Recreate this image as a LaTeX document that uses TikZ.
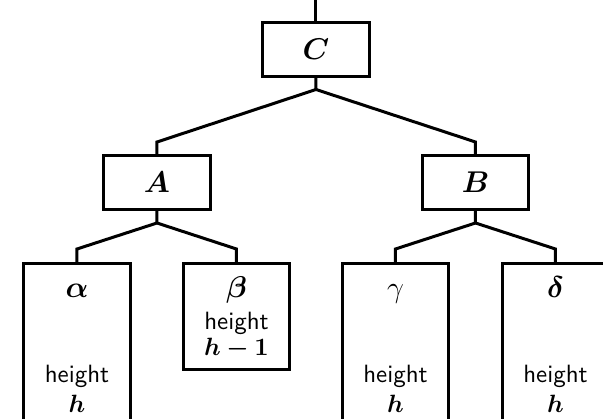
\documentclass[tikz,border=0pt]{standalone}
\usepackage{bm}
\begin{document}
\begin{tikzpicture}[x=0.4pt,y=-0.4pt,
  box/.style={draw,line width=1.2pt,rectangle,inner sep=0pt,minimum width=42.6pt},
  conn/.style={line width=1.2pt,line join=miter},
  lbl/.style={anchor=base,inner sep=0pt,font=\sffamily},
  big/.style={anchor=base,inner sep=0pt,font=\fontsize{11.5}{14}\selectfont}]
\useasboundingbox (0,0) rectangle (603,419);
\clip (0,0) rectangle (603,419);
% internal boxes
\node[box,minimum height=21.6pt,font=\large] (C) at (316,49.5) {$\bm{C}$};
\node[box,minimum height=21.6pt,font=\large] (A) at (157,182.5) {$\bm{A}$};
\node[box,minimum height=21.6pt,font=\large] (B) at (475.5,182.5) {$\bm{B}$};
% leaves
\node[box,minimum height=76pt,anchor=north] (al) at (77,262) {};
\node[box,minimum height=42.4pt,anchor=north] (be) at (236.5,262) {};
\node[box,minimum height=76pt,anchor=north] (ga) at (395.5,262) {};
\node[box,minimum height=76pt,anchor=north] (de) at (555.5,262) {};
% leaf labels
\node[big] (alN) at (77,298) {$\bm{\alpha}$};
\node[lbl] (alH) at (77,383) {height};
\node[lbl] (alh) at (77,413) {$\bm{h}$};
\node[big] (beN) at (236.5,298) {$\bm{\beta}$};
\node[lbl] (beH) at (236.5,330) {height};
\node[lbl] (beh) at (236.5,356) {$\bm{h-1}$};
\node[big] (gaN) at (395.5,298) {$\gamma$};
\node[lbl] (gaH) at (395.5,383) {height};
\node[lbl] (gah) at (395.5,413) {$\bm{h}$};
\node[big] (deN) at (555.5,298) {$\bm{\delta}$};
\node[lbl] (deH) at (555.5,383) {height};
\node[lbl] (deh) at (555.5,413) {$\bm{h}$};
% junction coordinates
\coordinate (top) at (316,0);
\coordinate (jC) at (316,89.5);
\coordinate (bA) at (157,142);
\coordinate (bB) at (475.5,142);
\coordinate (jA) at (157,223);
\coordinate (jB) at (475.5,223);
\coordinate (bal) at (77,249);
\coordinate (bbe) at (236.5,249);
\coordinate (bga) at (395.5,249);
\coordinate (bde) at (555.5,249);
% connectors
\draw[conn] (top) -- (C.north);
\draw[conn] (C.south) -- (jC) -- (bA) -- (A.north);
\draw[conn] (jC) -- (bB) -- (B.north);
\draw[conn] (A.south) -- (jA) -- (bal) -- (al.north);
\draw[conn] (jA) -- (bbe) -- (be.north);
\draw[conn] (B.south) -- (jB) -- (bga) -- (ga.north);
\draw[conn] (jB) -- (bde) -- (de.north);
\end{tikzpicture}
\end{document}
